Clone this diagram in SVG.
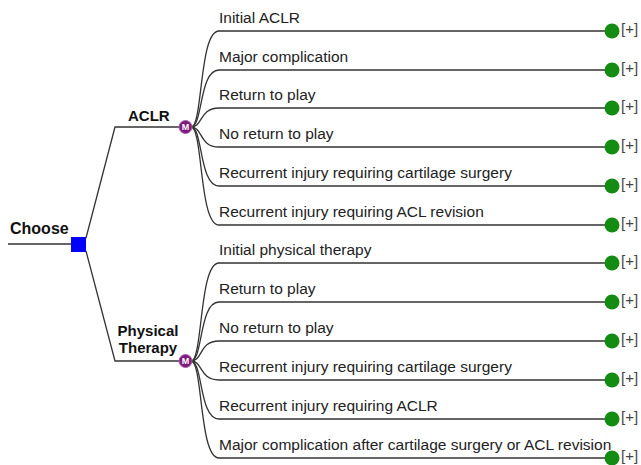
<svg xmlns="http://www.w3.org/2000/svg" width="641" height="465" viewBox="0 0 641 465">
<style>
.ln{fill:none;stroke:#333;stroke-width:1.3}
.lbl{font-family:"Liberation Sans",Arial,sans-serif;font-size:15.5px;fill:#222}
.bold{font-family:"Liberation Sans",Arial,sans-serif;font-weight:bold;fill:#111}
.term{fill:#148c14}
.plus{font-family:"Liberation Sans",Arial,sans-serif;font-size:15px;fill:#444}
.chance{fill:#7d1a7d;stroke:#a860a8;stroke-width:1}
.mt{font-family:"Liberation Sans",Arial,sans-serif;font-size:9px;font-weight:bold;fill:#fff;text-anchor:middle}
</style>
<rect width="641" height="465" fill="#fff"/>
<g id="connectors">
<path class="ln" d="M8,244 H71"/>
<path class="ln" d="M86,238 L115,127 H180"/>
<path class="ln" d="M86,251 L115,361 H180"/>
<path class="ln" d="M191,127 C203,127 199,31 219,31 H605"/>
<path class="ln" d="M191,127 C203,127 199,70 219,70 H605"/>
<path class="ln" d="M191,127 C203,127 199,108 219,108 H605"/>
<path class="ln" d="M191,127 C203,127 199,147 219,147 H605"/>
<path class="ln" d="M191,127 C203,127 199,186 219,186 H605"/>
<path class="ln" d="M191,127 C203,127 199,225 219,225 H605"/>
<path class="ln" d="M191,361 C203,361 199,263 219,263 H605"/>
<path class="ln" d="M191,361 C203,361 199,302 219,302 H605"/>
<path class="ln" d="M191,361 C203,361 199,341 219,341 H605"/>
<path class="ln" d="M191,361 C203,361 199,380 219,380 H605"/>
<path class="ln" d="M191,361 C203,361 199,419 219,419 H605"/>
<path class="ln" d="M191,361 C203,361 199,458 219,458 H605"/>
</g>
<g id="decision">
<rect x="71" y="237" width="15" height="15" fill="#0000ff"/>
<text class="bold" x="10" y="234" font-size="16">Choose</text>
</g>
<g id="aclr">
<text class="bold" x="128" y="120.5" font-size="15">ACLR</text>
<circle class="chance" cx="185.5" cy="127" r="6.5"/>
<text class="mt" x="185.5" y="130.3">M</text>
</g>
<g id="pt">
<text class="bold" x="148" y="335.5" font-size="15" text-anchor="middle">Physical</text>
<text class="bold" x="148" y="353" font-size="15" text-anchor="middle">Therapy</text>
<circle class="chance" cx="185.5" cy="361" r="6.5"/>
<text class="mt" x="185.5" y="364.3">M</text>
</g>
<g id="a1"><text class="lbl" x="219" y="23">Initial ACLR</text><circle class="term" cx="612" cy="31" r="7.5"/><text class="plus" x="621" y="34">[+]</text></g>
<g id="a2"><text class="lbl" x="219" y="62">Major complication</text><circle class="term" cx="612" cy="70" r="7.5"/><text class="plus" x="621" y="73">[+]</text></g>
<g id="a3"><text class="lbl" x="219" y="100">Return to play</text><circle class="term" cx="612" cy="108" r="7.5"/><text class="plus" x="621" y="111">[+]</text></g>
<g id="a4"><text class="lbl" x="219" y="139">No return to play</text><circle class="term" cx="612" cy="147" r="7.5"/><text class="plus" x="621" y="150">[+]</text></g>
<g id="a5"><text class="lbl" x="219" y="178">Recurrent injury requiring cartilage surgery</text><circle class="term" cx="612" cy="186" r="7.5"/><text class="plus" x="621" y="189">[+]</text></g>
<g id="a6"><text class="lbl" x="219" y="217">Recurrent injury requiring ACL revision</text><circle class="term" cx="612" cy="225" r="7.5"/><text class="plus" x="621" y="228">[+]</text></g>
<g id="p1"><text class="lbl" x="219" y="255">Initial physical therapy</text><circle class="term" cx="612" cy="263" r="7.5"/><text class="plus" x="621" y="266">[+]</text></g>
<g id="p2"><text class="lbl" x="219" y="294">Return to play</text><circle class="term" cx="612" cy="302" r="7.5"/><text class="plus" x="621" y="305">[+]</text></g>
<g id="p3"><text class="lbl" x="219" y="333">No return to play</text><circle class="term" cx="612" cy="341" r="7.5"/><text class="plus" x="621" y="344">[+]</text></g>
<g id="p4"><text class="lbl" x="219" y="372">Recurrent injury requiring cartilage surgery</text><circle class="term" cx="612" cy="380" r="7.5"/><text class="plus" x="621" y="383">[+]</text></g>
<g id="p5"><text class="lbl" x="219" y="411">Recurrent injury requiring ACLR</text><circle class="term" cx="612" cy="419" r="7.5"/><text class="plus" x="621" y="422">[+]</text></g>
<g id="p6"><text class="lbl" x="219" y="450">Major complication after cartilage surgery or ACL revision</text><circle class="term" cx="612" cy="458" r="7.5"/><text class="plus" x="621" y="461">[+]</text></g>
</svg>
